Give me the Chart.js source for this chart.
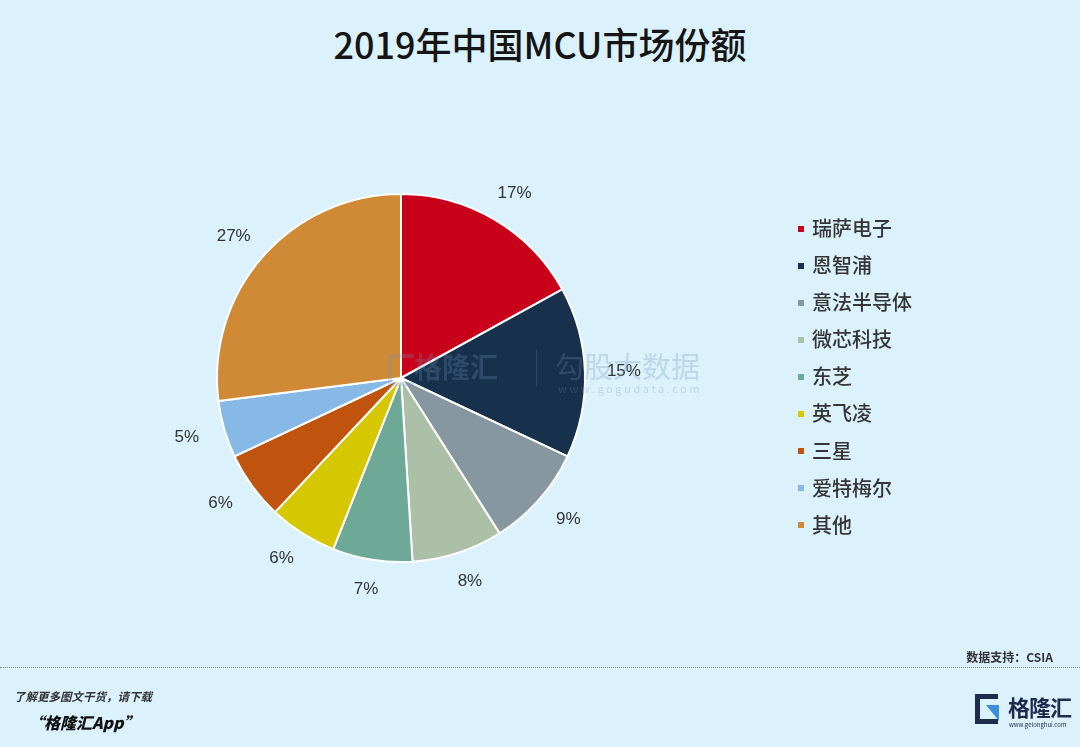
<!DOCTYPE html>
<html>
<head>
<meta charset="utf-8">
<script src="https://cdn.jsdelivr.net/npm/chart.js@4"></script>
<style>
  html, body { margin:0; padding:0; }
  body { width:1080px; height:747px; background:#dbf2fc; position:relative; overflow:hidden;
         font-family:"Noto Sans CJK SC","Noto Sans",sans-serif; color:#222; }
  #title { position:absolute; top:17px; left:0; width:1080px; text-align:center;
           font-size:36px; font-weight:500; color:#151515; }
  #wrap { position:absolute; left:0; top:0; width:1080px; height:747px; }
  #legend { position:absolute; left:798px; top:209px; }
  #legend div { height:37.1px; line-height:37.1px; font-size:20px; font-weight:500; color:#353535; white-space:nowrap; }
  #legend span.box { display:inline-block; width:6px; height:6px; margin-right:8px; vertical-align:middle; position:relative; top:-2px; }
  #wm { position:absolute; left:388px; top:350px; opacity:0.28; color:#6f8fb5; pointer-events:none; }
  #source { position:absolute; right:27px; top:648px; font-size:12px; font-weight:700; color:#333; }
  #dash { position:absolute; left:0; top:667px; width:1080px; border-top:1.5px dotted #8a8a8a; }
  #f1 { position:absolute; left:14px; top:688px; font-size:11.5px; font-weight:700; font-style:italic; color:#333; }
  #f2 { position:absolute; left:28px; top:710px; font-size:16px; font-weight:900; font-style:italic; color:#111; }
  #logo { position:absolute; left:975px; top:690px; }
</style>
</head>
<body>
<div id="title">2019年中国MCU市场份额</div>
<div id="wrap"><canvas id="pie" width="1080" height="747"></canvas></div>
<div id="wm">
  <div style="position:absolute;left:0;top:4px;width:22px;height:24px;border:4px solid #6f8fb5;border-right:none;"></div>
  <div style="position:absolute;left:26px;top:-4px;font-size:28px;font-weight:700;white-space:nowrap;">格隆汇</div>
  <div style="position:absolute;left:148px;top:0;width:1px;height:36px;background:#6f8fb5;"></div>
  <div style="position:absolute;left:167px;top:-6px;font-size:29px;white-space:nowrap;">勾股大数据</div>
  <div style="position:absolute;left:170px;top:30px;font-size:11px;letter-spacing:2.6px;white-space:nowrap;">www.gogudata.com</div>
</div>
<div id="legend"></div>
<div id="source">数据支持：CSIA</div>
<div id="dash"></div>
<div id="f1">了解更多图文干货，请下载</div>
<div id="f2">“格隆汇App”</div>
<div id="logo">
  <div style="position:absolute;left:0;top:4px;width:18px;height:20px;border:5px solid #1d2b4d;border-right:none;"></div>
  <div style="position:absolute;left:11px;top:15px;width:13px;height:16px;background:#3a8fd8;clip-path:polygon(0 0,100% 0,100% 100%);"></div>
  <div style="position:absolute;left:33px;top:0px;font-size:22px;font-weight:700;color:#1d2b4d;white-space:nowrap;letter-spacing:-1px;">格隆汇</div>
  <div style="position:absolute;left:34px;top:30px;font-size:6px;color:#1d2b4d;white-space:nowrap;">www.gelonghui.com</div>
</div>
<script>
const companies = ['瑞萨电子', '恩智浦', '意法半导体', '微芯科技', '东芝', '英飞凌', '三星', '爱特梅尔', '其他'];
const shares    = [17, 15, 9, 8, 7, 6, 6, 5, 27];
const colors    = ['#c8001a', '#17304b', '#8797a0', '#acc0a8', '#6ea896', '#d6c800', '#c0530e', '#86b9e6', '#d08a35'];

companies.forEach((c, i) => {
  document.getElementById('legend').innerHTML +=
    `<div><span class="box" style="background:${colors[i]}"></span>${c}</div>`;
});

// percent labels outside each slice, pushed out by half the text box
const outLabels = {
  id: 'outLabels',
  afterDatasetsDraw(chart) {
    const ctx = chart.ctx;
    ctx.save();
    ctx.font = '17px "Liberation Sans Narrow","Liberation Sans",sans-serif';
    ctx.fillStyle = '#333';
    ctx.textAlign = 'center';
    ctx.textBaseline = 'middle';
    chart.getDatasetMeta(0).data.forEach((arc, i) => {
      const mid = (arc.startAngle + arc.endAngle) / 2;
      const cx = Math.cos(mid), cy = Math.sin(mid);
      const r = arc.outerRadius + 23;
      ctx.fillText(shares[i] + '%', arc.x + cx * (r + 16), arc.y + cy * (r + 7));
    });
    ctx.restore();
  }
};

new Chart(document.getElementById('pie'), {
  type: 'pie',
  data: { labels: companies, datasets: [{ data: shares, backgroundColor: colors, borderColor: '#ffffff', borderWidth: 2 }] },
  options: {
    responsive: false, animation: false,
    layout: { padding: { left: 216, right: 494, top: 193, bottom: 184 } },
    plugins: { legend: { display: false }, tooltip: { enabled: false } }
  },
  plugins: [outLabels]
});
</script>
</body>
</html>
